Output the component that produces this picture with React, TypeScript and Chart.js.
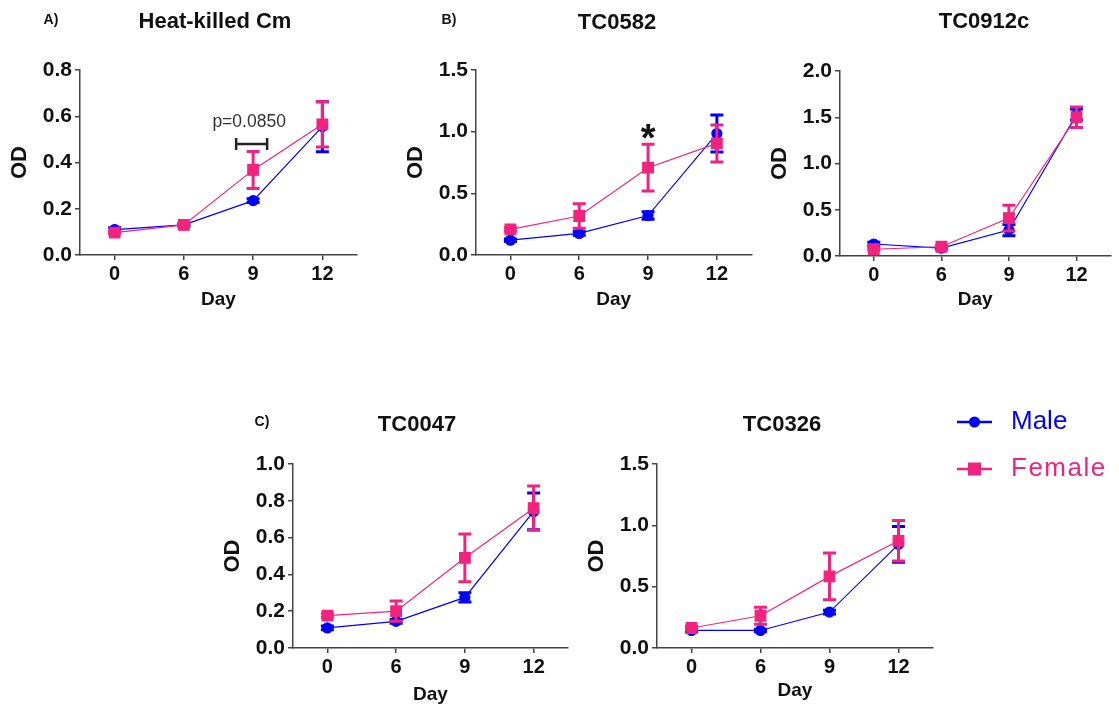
import React, { useEffect, useRef } from "react";
import { Chart, registerables } from "chart.js";

Chart.register(...registerables);

const FONT = '"Liberation Sans", Arial, Helvetica, sans-serif';
const BLUE = "#0000FF";
const PINK = "#F2237F";
const INK = "#111111";
const AXIS = "#444444";

// ---------- data ----------
const DAYS = ["0", "6", "9", "12"];
const SERIES = ["Male", "Female"];

const heatKilledMale = [0.11, 0.13, 0.235, 0.555];
const heatKilledMaleErr = [0.008, 0.006, 0.008, 0.108];
const heatKilledFemale = [0.097, 0.13, 0.368, 0.565];
const heatKilledFemaleErr = [0.006, 0.006, 0.08, 0.098];

const tc0582Male = [0.12, 0.175, 0.32, 0.985];
const tc0582MaleErr = [0.01, 0.015, 0.03, 0.15];
const tc0582Female = [0.208, 0.316, 0.708, 0.905];
const tc0582FemaleErr = [0.015, 0.1, 0.19, 0.15];

const tc0912cMale = [0.13, 0.085, 0.28, 1.53];
const tc0912cMaleErr = [0.02, 0.01, 0.06, 0.06];
const tc0912cFemale = [0.073, 0.1, 0.41, 1.5];
const tc0912cFemaleErr = [0.01, 0.01, 0.14, 0.11];

const tc0047Male = [0.109, 0.145, 0.275, 0.742];
const tc0047MaleErr = [0.01, 0.01, 0.025, 0.1];
const tc0047Female = [0.176, 0.2, 0.49, 0.76];
const tc0047FemaleErr = [0.01, 0.055, 0.13, 0.12];

const tc0326Male = [0.143, 0.143, 0.293, 0.845];
const tc0326MaleErr = [0.01, 0.01, 0.015, 0.145];
const tc0326Female = [0.163, 0.263, 0.584, 0.874];
const tc0326FemaleErr = [0.015, 0.07, 0.19, 0.165];

const Y_TICK_STEPS = [0.2, 0.5, 0.5, 0.2, 0.5];
const Y_MAXES = [0.8, 1.5, 2.0, 1.0, 1.5];

type Box = { left: number; top: number; width: number; height: number };
type Area = { left: number; right: number; top: number; bottom: number };
type Panel = {
  id: string;
  title: string;
  letter?: string;
  male: number[];
  maleErr: number[];
  female: number[];
  femaleErr: number[];
  yMax: number;
  yStep: number;
  box: Box;
  area: Area;
  titlePos: { x: number; y: number };
  letterPos?: { x: number; y: number };
  dayY: number;
  note?: { kind: "bracket" | "star"; cat: number; value: number; text?: string; textValue?: number };
  legend?: boolean;
};

const PANELS: Panel[] = [
  {
    id: "a",
    title: "Heat-killed Cm",
    letter: "A)",
    male: heatKilledMale,
    maleErr: heatKilledMaleErr,
    female: heatKilledFemale,
    femaleErr: heatKilledFemaleErr,
    yMax: Y_MAXES[0],
    yStep: Y_TICK_STEPS[0],
    box: { left: 0, top: 0, width: 375, height: 320 },
    area: { left: 80, right: 357, top: 70, bottom: 255 },
    titlePos: { x: 215, y: 22 },
    letterPos: { x: 51, y: 20 },
    dayY: 300,
    note: { kind: "bracket", cat: 2, value: 0.48, text: "p=0.0850", textValue: 0.575 },
  },
  {
    id: "b",
    title: "TC0582",
    letter: "B)",
    male: tc0582Male,
    maleErr: tc0582MaleErr,
    female: tc0582Female,
    femaleErr: tc0582FemaleErr,
    yMax: Y_MAXES[1],
    yStep: Y_TICK_STEPS[1],
    box: { left: 380, top: 0, width: 380, height: 320 },
    area: { left: 476, right: 753, top: 70, bottom: 255 },
    titlePos: { x: 617, y: 23 },
    letterPos: { x: 449, y: 20 },
    dayY: 300,
    note: { kind: "star", cat: 2, value: 0.93 },
  },
  {
    id: "c",
    title: "TC0912c",
    male: tc0912cMale,
    maleErr: tc0912cMaleErr,
    female: tc0912cFemale,
    femaleErr: tc0912cFemaleErr,
    yMax: Y_MAXES[2],
    yStep: Y_TICK_STEPS[2],
    box: { left: 760, top: 0, width: 359, height: 320 },
    area: { left: 840, right: 1118, top: 71, bottom: 256 },
    titlePos: { x: 984, y: 22 },
    dayY: 300,
  },
  {
    id: "d",
    title: "TC0047",
    letter: "C)",
    male: tc0047Male,
    maleErr: tc0047MaleErr,
    female: tc0047Female,
    femaleErr: tc0047FemaleErr,
    yMax: Y_MAXES[3],
    yStep: Y_TICK_STEPS[3],
    box: { left: 220, top: 380, width: 360, height: 328 },
    area: { left: 293, right: 568, top: 464, bottom: 648 },
    titlePos: { x: 417, y: 425 },
    letterPos: { x: 262, y: 422 },
    dayY: 695,
  },
  {
    id: "e",
    title: "TC0326",
    male: tc0326Male,
    maleErr: tc0326MaleErr,
    female: tc0326Female,
    femaleErr: tc0326FemaleErr,
    yMax: Y_MAXES[4],
    yStep: Y_TICK_STEPS[4],
    box: { left: 580, top: 380, width: 539, height: 328 },
    area: { left: 657, right: 933, top: 464, bottom: 648 },
    titlePos: { x: 782, y: 425 },
    dayY: 691,
    legend: true,
  },
];

const LEGEND = { lineX0: 957, lineX1: 992, textX: 1011, rows: [422, 469] };

const errorBarPlugin = {
  id: "errorBars",
  afterDatasetDraw(chart: any, args: any) {
    const ds: any = chart.data.datasets[args.index];
    if (!ds.errors) return;
    const ys = chart.scales.y;
    const ctx = chart.ctx;
    ctx.save();
    ctx.strokeStyle = ds.borderColor;
    ctx.lineWidth = 3;
    ctx.lineCap = "butt";
    args.meta.data.forEach((pt: any, i: number) => {
      const v = ds.data[i];
      const e = ds.errors[i];
      const top = ys.getPixelForValue(v + e);
      const bot = ys.getPixelForValue(v - e);
      const x = pt.x;
      const hw = 6.5;
      ctx.beginPath();
      ctx.moveTo(x, top);
      ctx.lineTo(x, bot);
      ctx.moveTo(x - hw, top);
      ctx.lineTo(x + hw, top);
      ctx.moveTo(x - hw, bot);
      ctx.lineTo(x + hw, bot);
      ctx.stroke();
    });
    ctx.restore();
  },
};

function PanelChart({ p }: { p: Panel }) {
  const ref = useRef<HTMLCanvasElement>(null);
  useEffect(() => {
    const canvas = ref.current!;
    const ox = p.box.left;
    const oy = p.box.top;
    const aL = p.area.left - ox;
    const aR = p.area.right - ox;
    const aT = p.area.top - oy;
    const aB = p.area.bottom - oy;
    const OD_SIZE = 22;
    const Y_W = 60 + (OD_SIZE * 1.2) / 2;
    const xH = p.box.height - aB;
    const dayRel = p.dayY - oy;
    const DAY_SIZE = 19;
    const dayLH = DAY_SIZE * 1.2;

    const textPlugin = {
      id: "panelText",
      afterDraw(chart: any) {
        const ctx = chart.ctx;
        const xs = chart.scales.x;
        const ys = chart.scales.y;
        ctx.save();
        ctx.fillStyle = INK;
        ctx.textAlign = "center";
        ctx.textBaseline = "middle";
        ctx.font = `bold 22px ${FONT}`;
        ctx.fillText(p.title, p.titlePos.x - ox, p.titlePos.y - oy);
        if (p.letter && p.letterPos) {
          ctx.font = `bold 14px ${FONT}`;
          ctx.fillText(p.letter, p.letterPos.x - ox, p.letterPos.y - oy);
        }
        if (p.note) {
          const xc = xs.getPixelForValue(p.note.cat);
          const yc = ys.getPixelForValue(p.note.value);
          if (p.note.kind === "bracket") {
            const bx = xc - 1.5;
            ctx.strokeStyle = "#222";
            ctx.lineWidth = 2.5;
            ctx.beginPath();
            ctx.moveTo(bx - 15.5, yc);
            ctx.lineTo(bx + 15.5, yc);
            ctx.moveTo(bx - 15.5, yc - 6);
            ctx.lineTo(bx - 15.5, yc + 6);
            ctx.moveTo(bx + 15.5, yc - 6);
            ctx.lineTo(bx + 15.5, yc + 6);
            ctx.stroke();
            ctx.fillStyle = "#333";
            ctx.font = `17.5px ${FONT}`;
            ctx.fillText(p.note.text || "", xc - 4, ys.getPixelForValue(p.note.textValue || 0));
          } else {
            ctx.font = `bold 38px ${FONT}`;
            ctx.fillStyle = INK;
            ctx.fillText("*", xc, yc);
          }
        }
        if (p.legend) {
          chart.data.datasets.forEach((ds: any, i: number) => {
            const y = LEGEND.rows[i] - oy;
            const x0 = LEGEND.lineX0 - ox;
            const x1 = LEGEND.lineX1 - ox;
            const xm = (x0 + x1) / 2;
            ctx.strokeStyle = ds.borderColor;
            ctx.lineWidth = 2.5;
            ctx.beginPath();
            ctx.moveTo(x0, y);
            ctx.lineTo(x1, y);
            ctx.stroke();
            ctx.fillStyle = ds.borderColor;
            ctx.beginPath();
            if (ds.pointStyle === "rect") {
              ctx.rect(xm - 6.5, y - 6.5, 13, 13);
            } else {
              ctx.arc(xm, y, 5.5, 0, Math.PI * 2);
            }
            ctx.fill();
            ctx.font = `26px ${FONT}`;
            ctx.textAlign = "left";
            (ctx as any).letterSpacing = ds.pointStyle === "rect" ? "1.5px" : "0px";
            ctx.fillText(ds.label, LEGEND.textX - ox, y);
            (ctx as any).letterSpacing = "0px";
            ctx.textAlign = "center";
          });
        }
        ctx.restore();
      },
    };

    const axisGrid = {
      drawOnChartArea: false,
      drawTicks: true,
      tickLength: 5,
      color: AXIS,
      lineWidth: 1.5,
    };
    const axisBorder = { display: true, color: AXIS, width: 1.5 };

    const chart = new Chart(canvas, {
      type: "line",
      data: {
        labels: DAYS,
        datasets: [
          {
            label: SERIES[0],
            data: p.male,
            errors: p.maleErr,
            borderColor: BLUE,
            backgroundColor: BLUE,
            pointBackgroundColor: BLUE,
            pointBorderColor: BLUE,
            pointStyle: "circle",
            pointRadius: 5,
            pointHoverRadius: 5,
            borderWidth: 1.2,
            order: 1,
          } as any,
          {
            label: SERIES[1],
            data: p.female,
            errors: p.femaleErr,
            borderColor: PINK,
            backgroundColor: PINK,
            pointBackgroundColor: PINK,
            pointBorderColor: PINK,
            pointStyle: "rect",
            pointRadius: 7.5,
            pointHoverRadius: 7.5,
            borderWidth: 1.2,
            order: 0,
          } as any,
        ],
      },
      options: {
        responsive: false,
        animation: false,
        events: [],
        layout: {
          padding: { left: aL - Y_W, right: p.box.width - aR, top: aT, bottom: 0 },
        },
        plugins: {
          legend: { display: false },
          title: { display: false },
          tooltip: { enabled: false },
        },
        scales: {
          x: {
            type: "category",
            offset: true,
            grid: axisGrid,
            border: axisBorder,
            ticks: {
              color: INK,
              padding: 2,
              autoSkip: false,
              maxRotation: 0,
              font: { family: FONT, size: 20, weight: "bold" },
            },
            title: {
              display: true,
              text: "Day",
              color: INK,
              font: { family: FONT, size: DAY_SIZE, weight: "bold" },
              padding: { top: 0, bottom: p.box.height - dayRel - dayLH / 2 },
            },
            afterFit: (s: any) => {
              s.height = xH;
            },
          },
          y: {
            type: "linear",
            min: 0,
            max: p.yMax,
            grid: axisGrid,
            border: axisBorder,
            ticks: {
              stepSize: p.yStep,
              color: INK,
              padding: 3,
              font: { family: FONT, size: 21, weight: "bold" },
              callback: (v: any) => Number(v).toFixed(1),
            },
            title: {
              display: true,
              text: "OD",
              color: INK,
              font: { family: FONT, size: OD_SIZE, weight: "bold" },
              padding: { top: 0, bottom: 0 },
            },
            afterFit: (s: any) => {
              s.width = Y_W;
            },
          },
        },
      } as any,
      plugins: [errorBarPlugin as any, textPlugin as any],
    });
    return () => chart.destroy();
  }, [p]);

  return (
    <canvas
      ref={ref}
      width={p.box.width}
      height={p.box.height}
      style={{
        position: "absolute",
        left: p.box.left,
        top: p.box.top,
        width: p.box.width,
        height: p.box.height,
      }}
    />
  );
}

export default function App() {
  return (
    <div
      style={{
        position: "absolute",
        left: 0,
        top: 0,
        width: 1119,
        height: 708,
        background: "#ffffff",
        overflow: "hidden",
      }}
    >
      {PANELS.map((p) => (
        <PanelChart key={p.id} p={p} />
      ))}
    </div>
  );
}
